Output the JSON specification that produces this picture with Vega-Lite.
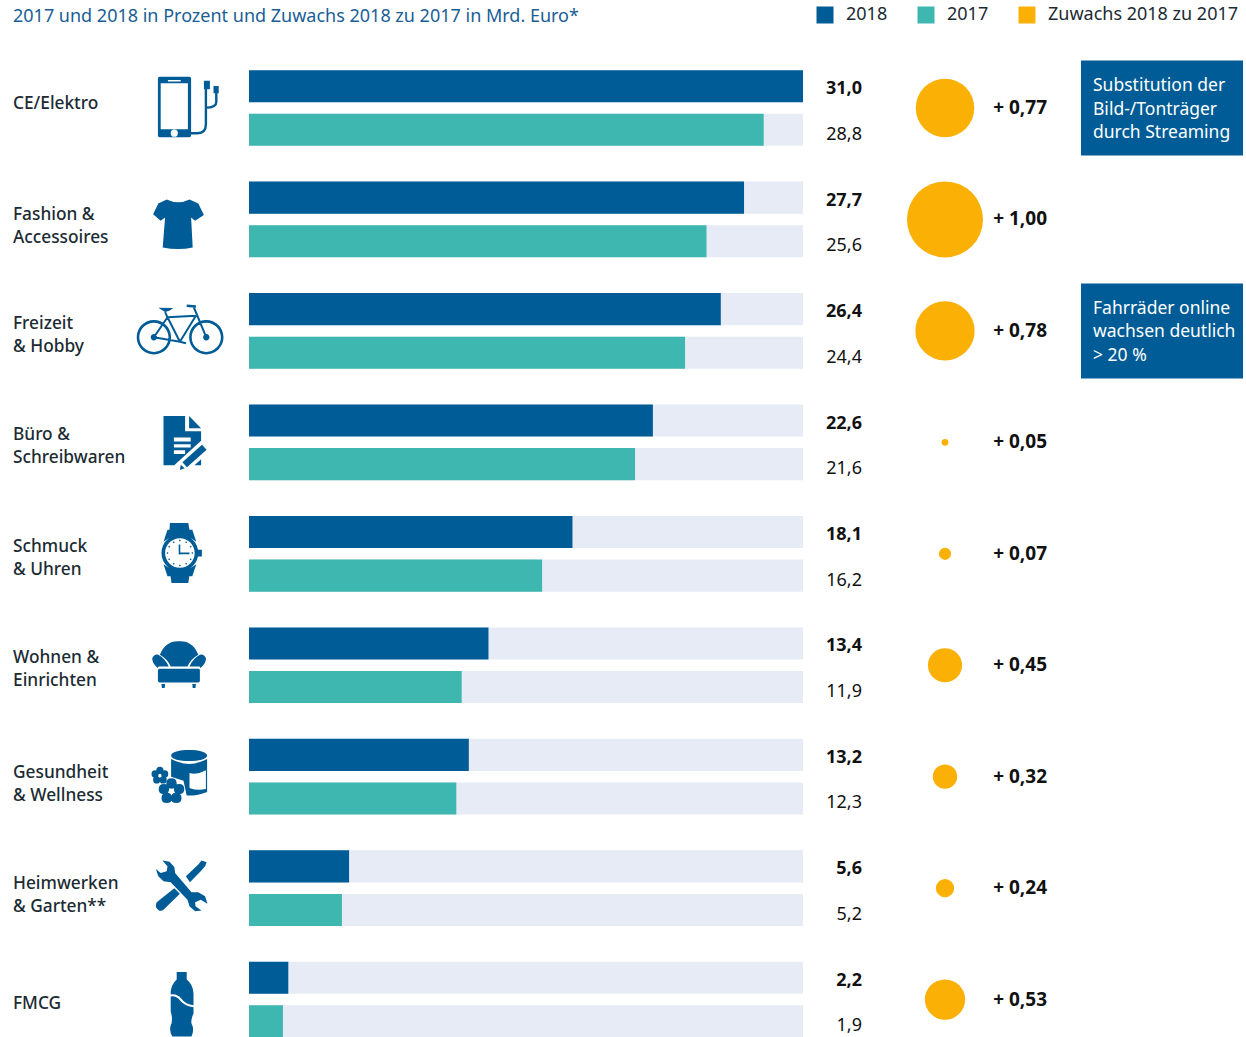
{
"$schema":"https://vega.github.io/schema/vega-lite/v6.json",
"padding":0,
"background":"white",
"autosize":{"type":"pad"},
"config":{"view":{"stroke":null},"font":"Noto Sans","text":{"font":"Noto Sans"}},
"datasets":{
"balken":[
{"kategorie":"CE/Elektro","jahr":"2018","wert":31.0,"label":"31,0"},
{"kategorie":"CE/Elektro","jahr":"2017","wert":28.8,"label":"28,8"},
{"kategorie":"Fashion & Accessoires","jahr":"2018","wert":27.7,"label":"27,7"},
{"kategorie":"Fashion & Accessoires","jahr":"2017","wert":25.6,"label":"25,6"},
{"kategorie":"Freizeit & Hobby","jahr":"2018","wert":26.4,"label":"26,4"},
{"kategorie":"Freizeit & Hobby","jahr":"2017","wert":24.4,"label":"24,4"},
{"kategorie":"Büro & Schreibwaren","jahr":"2018","wert":22.6,"label":"22,6"},
{"kategorie":"Büro & Schreibwaren","jahr":"2017","wert":21.6,"label":"21,6"},
{"kategorie":"Schmuck & Uhren","jahr":"2018","wert":18.1,"label":"18,1"},
{"kategorie":"Schmuck & Uhren","jahr":"2017","wert":16.4,"label":"16,2"},
{"kategorie":"Wohnen & Einrichten","jahr":"2018","wert":13.4,"label":"13,4"},
{"kategorie":"Wohnen & Einrichten","jahr":"2017","wert":11.9,"label":"11,9"},
{"kategorie":"Gesundheit & Wellness","jahr":"2018","wert":12.3,"label":"13,2"},
{"kategorie":"Gesundheit & Wellness","jahr":"2017","wert":11.6,"label":"12,3"},
{"kategorie":"Heimwerken & Garten","jahr":"2018","wert":5.6,"label":"5,6"},
{"kategorie":"Heimwerken & Garten","jahr":"2017","wert":5.2,"label":"5,2"},
{"kategorie":"FMCG","jahr":"2018","wert":2.2,"label":"2,2"},
{"kategorie":"FMCG","jahr":"2017","wert":1.9,"label":"1,9"}
],
"kategorien":[
{"kategorie":"CE/Elektro","name":"CE/Elektro","zuwachs":0.77,"kreis":0.77,"zuwachsText":"+ 0,77"},
{"kategorie":"Fashion & Accessoires","name":"Fashion &\nAccessoires","zuwachs":1.0,"kreis":1.0,"zuwachsText":"+ 1,00"},
{"kategorie":"Freizeit & Hobby","name":"Freizeit\n& Hobby","zuwachs":0.78,"kreis":0.78,"zuwachsText":"+ 0,78"},
{"kategorie":"Büro & Schreibwaren","name":"Büro &\nSchreibwaren","zuwachs":0.05,"kreis":0.09,"zuwachsText":"+ 0,05"},
{"kategorie":"Schmuck & Uhren","name":"Schmuck\n& Uhren","zuwachs":0.07,"kreis":0.16,"zuwachsText":"+ 0,07"},
{"kategorie":"Wohnen & Einrichten","name":"Wohnen &\nEinrichten","zuwachs":0.45,"kreis":0.45,"zuwachsText":"+ 0,45"},
{"kategorie":"Gesundheit & Wellness","name":"Gesundheit\n& Wellness","zuwachs":0.32,"kreis":0.32,"zuwachsText":"+ 0,32"},
{"kategorie":"Heimwerken & Garten","name":"Heimwerken\n& Garten**","zuwachs":0.24,"kreis":0.24,"zuwachsText":"+ 0,24"},
{"kategorie":"FMCG","name":"FMCG","zuwachs":0.53,"kreis":0.53,"zuwachsText":"+ 0,53"}
],
"hinweise":[
{"kategorie":"CE/Elektro","text":"Substitution der\nBild-/Tonträger\ndurch Streaming"},
{"kategorie":"Freizeit & Hobby","text":"Fahrräder online\nwachsen deutlich\n> 20 %"}
],
"kopf":[{"titel":"2017 und 2018 in Prozent und Zuwachs 2018 zu 2017 in Mrd. Euro*"}]
},
"hconcat":[
{"width":110,"height":1037,
 "layer":[
  {"data":{"name":"kopf"},"mark":{"type":"text","align":"left","baseline":"middle","dx":13,"fontSize":18,"fontWeight":400,"color":"#1A5E96"},"encoding":{"x":{"value":0},"y":{"value":17},"text":{"field":"titel"}}},
  {"data":{"name":"kategorien"},"transform":[{"filter":{"field":"kategorie","oneOf":["CE/Elektro","Fashion & Accessoires","Gesundheit & Wellness","Heimwerken & Garten"]}}],
   "mark":{"type":"text","align":"left","baseline":"middle","dx":13,"dy":-4,"fontSize":17.3,"fontWeight":500,"lineBreak":"\n","lineHeight":23,"color":"#1C2B33"},
   "encoding":{"x":{"value":0},"y":{"field":"kategorie","type":"nominal","axis":null,"sort":null,"scale":{"domain":["CE/Elektro","Fashion & Accessoires","Freizeit & Hobby","Büro & Schreibwaren","Schmuck & Uhren","Wohnen & Einrichten","Gesundheit & Wellness","Heimwerken & Garten","FMCG"],"range":[52.3,1055.3],"paddingInner":0,"paddingOuter":0}},"text":{"field":"name"}}},
  {"data":{"name":"kategorien"},"transform":[{"filter":{"field":"kategorie","oneOf":["Freizeit & Hobby","Büro & Schreibwaren","Schmuck & Uhren","Wohnen & Einrichten"]}}],
   "mark":{"type":"text","align":"left","baseline":"middle","dx":13,"dy":-7,"fontSize":17.3,"fontWeight":500,"lineBreak":"\n","lineHeight":23,"color":"#1C2B33"},
   "encoding":{"x":{"value":0},"y":{"field":"kategorie","type":"nominal","axis":null,"sort":null,"scale":{"domain":["CE/Elektro","Fashion & Accessoires","Freizeit & Hobby","Büro & Schreibwaren","Schmuck & Uhren","Wohnen & Einrichten","Gesundheit & Wellness","Heimwerken & Garten","FMCG"],"range":[52.3,1055.3],"paddingInner":0,"paddingOuter":0}},"text":{"field":"name"}}},
  {"data":{"name":"kategorien"},"transform":[{"filter":{"field":"kategorie","equal":"FMCG"}}],
   "mark":{"type":"text","align":"left","baseline":"middle","dx":13,"dy":4,"fontSize":17.3,"fontWeight":500,"lineBreak":"\n","lineHeight":23,"color":"#1C2B33"},
   "encoding":{"x":{"value":0},"y":{"field":"kategorie","type":"nominal","axis":null,"sort":null,"scale":{"domain":["CE/Elektro","Fashion & Accessoires","Freizeit & Hobby","Büro & Schreibwaren","Schmuck & Uhren","Wohnen & Einrichten","Gesundheit & Wellness","Heimwerken & Garten","FMCG"],"range":[52.3,1055.3],"paddingInner":0,"paddingOuter":0}},"text":{"field":"name"}}}
 ]},
{"width":139,"height":1037,"data":{"name":"kategorien"},
 "mark":{"type":"point","filled":true,"size":6400,"opacity":1,"color":"#005C96"},
 "encoding":{"y":{"field":"kategorie","type":"nominal","axis":null,"sort":null,"scale":{"domain":["CE/Elektro","Fashion & Accessoires","Freizeit & Hobby","Büro & Schreibwaren","Schmuck & Uhren","Wohnen & Einrichten","Gesundheit & Wellness","Heimwerken & Garten","FMCG"],"range":[52.3,1055.3],"paddingInner":0,"paddingOuter":0}},
 "shape":{"field":"kategorie","type":"nominal","legend":null,"scale":{"domain":["CE/Elektro","Fashion & Accessoires","Freizeit & Hobby","Büro & Schreibwaren","Schmuck & Uhren","Wohnen & Einrichten","Gesundheit & Wellness","Heimwerken & Garten","FMCG"],"range":[
"M-.5 -.78L.25 -.78Q.29 -.78 .29 -.74L.29 .69Q.29 .73 .25 .73L-.5 .73Q-.54 .73 -.54 .69L-.54 -.74Q-.54 -.78 -.5 -.78ZM-.47 -.62L-.47 .53L.21 .53L.21 -.62ZM-.29 -.7L-.29 -.66L.03 -.66L.03 -.7ZM-.22 .63Q-.22 .72 -.13 .72Q-.04 .72 -.04 .63Q-.04 .54 -.13 .54Q-.22 .54 -.22 .63ZM.29 .6L.45 .6Q.63 .6 .63 .4L.63 -.49L.69 -.49L.69 .4Q.69 .66 .45 .66L.29 .66ZM.61 -.68L.76 -.68L.76 -.47L.61 -.47ZM.85 -.55L.98 -.55L.98 -.37L.85 -.37ZM.89 -.37L.95 -.37L.95 -.15Q.95 .02 .66 .02L.66 -.04Q.89 -.04 .89 -.15Z",
"M-.32 -.5Q-.03 -.36 .25 -.5L.47 -.4L.61 -.11L.39 .03L.29 -.05L.33 .7Q-.03 .78 -.42 .7L-.36 -.05L-.47 .03L-.66 -.13L-.53 -.4Z",
"M-1.07 .16C-1.07 .3975 -.8775 .59 -.64 .59C-.4025 .59 -.21 .3975 -.21 .16C-.21 -.0775 -.4025 -.27 -.64 -.27C-.8775 -.27 -1.07 -.0775 -1.07 .16ZM-1.005 .16C-1.005 -.0416 -.8416 -.205 -.64 -.205C-.4384 -.205 -.275 -.0416 -.275 .16C-.275 .3616 -.4384 .525 -.64 .525C-.8416 .525 -1.005 .3616 -1.005 .16ZM.24 .16C.24 .3975 .4325 .59 .67 .59C.9075 .59 1.1 .3975 1.1 .16C1.1 -.0775 .9075 -.27 .67 -.27C.4325 -.27 .24 -.0775 .24 .16ZM.305 .16C.305 -.0416 .4684 -.205 .67 -.205C.8716 -.205 1.035 -.0416 1.035 .16C1.035 .3616 .8716 .525 .67 .525C.4684 .525 .305 .3616 .305 .16ZM-.72 .16C-.72 .204 -.684 .24 -.64 .24C-.596 .24 -.56 .204 -.56 .16C-.56 .116 -.596 .08 -.64 .08C-.684 .08 -.72 .116 -.72 .16ZM.59 .16C.59 .204 .626 .24 .67 .24C.714 .24 .75 .204 .75 .16C.75 .116 .714 .08 .67 .08C.626 .08 .59 .116 .59 .16ZM-.322 -.329L-.012 .281L.032 .259L-.278 -.351ZM-.299 -.315L.411 -.355L.409 -.405L-.301 -.365ZM.031 .283L.431 -.367L.389 -.393L-.011 .257ZM-.321 -.354L-.661 .146L-.619 .174L-.279 -.326ZM-.644 .185L.006 .295L.014 .245L-.636 .135ZM.327 -.6L.647 .17L.693 .15L.373 -.62ZM.178 -.6L.408 -.58L.412 -.64L.182 -.66ZM-.53 -.58L-.36 -.47L-.24 -.51L-.16 -.57ZM-.277 -.35L-.337 -.48L-.383 -.46L-.323 -.33ZM.004 .294L.154 .334L.166 .286L.016 .246Z",
"M-.4 -.66L.14 -.66L.14 -.28L.54 -.28L.54 .57L-.4 .57ZM.24 -.66L.54 -.35L.24 -.35ZM-.14 -.12L-.14 -.02L.28 -.02L.28 -.12ZM-.14 .05L-.14 .13L.28 .13L.28 .05ZM-.14 .2L-.14 .29L.14 .29L.14 .2ZM.54 -.04L-.132 .57L.374 .57L.54 .42ZM.563 .057L.677 .183L.187 .623L.073 .497ZM.03 .56L.13 .65L.01 .69Z",
"M-.45 -.02C-.45 -.274 -.244 -.48 .01 -.48C.264 -.48 .47 -.274 .47 -.02C.47 .234 .264 .44 .01 .44C-.244 .44 -.45 .234 -.45 -.02ZM-.36 -.02C-.36 .184 -.194 .35 .01 .35C.214 .35 .38 .184 .38 -.02C.38 -.224 .214 -.39 .01 -.39C-.194 -.39 -.36 -.224 -.36 -.02ZM-.24 -.77L.22 -.77L.28 -.42L-.26 -.42ZM-.25 .38L.27 .38L.22 .73L-.2 .73ZM-.3 -.6L.32 -.6L.42 -.3L.3 -.38L.01 -.42L-.28 -.38L-.4 -.3ZM-.3 .56L-.4 .26L-.28 .34L.01 .38L.3 .34L.42 .26L.32 .56ZM.45 -.1L.56 -.1L.56 .07L.45 .07ZM-.02 -.23L.02 -.23L.02 .02L-.02 .02ZM-.02 -.03L.25 -.03L.25 .01L-.02 .01ZM.01 -.355L.035 -.33L.01 -.305L-.015 -.33ZM.01 .265L.035 .29L.01 .315L-.015 .29ZM-.3 -.045L-.275 -.02L-.3 .005L-.325 -.02ZM.32 -.045L.345 -.02L.32 .005L.295 -.02ZM.165 -.315L.19 -.29L.165 -.265L.14 -.29ZM.28 -.2L.305 -.175L.28 -.15L.255 -.175ZM.28 .11L.305 .135L.28 .16L.255 .135ZM.165 .225L.19 .25L.165 .275L.14 .25ZM-.145 .225L-.12 .25L-.145 .275L-.17 .25ZM-.26 .11L-.235 .135L-.26 .16L-.285 .135ZM-.26 -.2L-.235 -.175L-.26 -.15L-.285 -.175ZM-.145 -.315L-.12 -.29L-.145 -.265L-.17 -.29Z",
"M-.49 -.26Q-.35 -.62 -.01 -.6Q.33 -.62 .47 -.26Q.28 -.15 .2 .03L-.22 .03Q-.3 -.15 -.49 -.26ZM-.68 -.18Q-.62 -.3 -.53 -.26Q-.36 -.17 -.27 .03L-.52 .03L-.55 .07Q-.7 -.08 -.68 -.18ZM.66 -.18Q.6 -.3 .51 -.26Q.34 -.17 .25 .03L.5 .03L.53 .07Q.68 -.08 .66 -.18ZM-.5 .09L.48 .09Q.51 .09 .51 .13L.51 .39Q.51 .43 .47 .43L-.49 .43Q-.54 .43 -.54 .39L-.54 .13Q-.54 .09 -.5 .09ZM-.45 .47L-.36 .47L-.37 .57L-.44 .57ZM.32 .47L.41 .47L.4 .57L.33 .57Z",
"M-.21 -.53C-.21 -.62 0 -.67 .24 -.67C.48 -.67 .69 -.62 .69 -.53C.69 -.44 .48 -.39 .24 -.39C0 -.39 -.21 -.44 -.21 -.53ZM-.21 -.44Q.24 -.2 .69 -.44L.69 .38Q.45 .48 .18 .47L.1 .1L-.21 0ZM.25 -.09L.25 .28Q.45 .36 .66 .31L.66 -.16Q.45 -.04 .25 -.09ZM-.33 .17Q-.33 .04 -.2 .04Q-.07 .04 -.07 .17Q-.07 .3 -.2 .3Q-.33 .3 -.33 .17ZM-.14 .31Q-.14 .18 -.01 .18Q.12 .18 .12 .31Q.12 .44 -.01 .44Q-.14 .44 -.14 .31ZM-.21 .53Q-.21 .4 -.08 .4Q.05 .4 .05 .53Q.05 .66 -.08 .66Q-.21 .66 -.21 .53ZM-.45 .53Q-.45 .4 -.32 .4Q-.19 .4 -.19 .53Q-.19 .66 -.32 .66Q-.45 .66 -.45 .53ZM-.52 .31Q-.52 .18 -.39 .18Q-.26 .18 -.26 .31Q-.26 .44 -.39 .44Q-.52 .44 -.52 .31ZM-.58 -.16Q-.58 -.25 -.49 -.25Q-.4 -.25 -.4 -.16Q-.4 -.07 -.49 -.07Q-.58 -.07 -.58 -.16ZM-.46 -.07Q-.46 -.16 -.37 -.16Q-.28 -.16 -.28 -.07Q-.28 .02 -.37 .02Q-.46 .02 -.46 -.07ZM-.5 .08Q-.5 -.01 -.41 -.01Q-.32 -.01 -.32 .08Q-.32 .17 -.41 .17Q-.5 .17 -.5 .08ZM-.66 .08Q-.66 -.01 -.57 -.01Q-.48 -.01 -.48 .08Q-.48 .17 -.57 .17Q-.66 .17 -.66 .08ZM-.7 -.07Q-.7 -.16 -.61 -.16Q-.52 -.16 -.52 -.07Q-.52 .02 -.61 .02Q-.7 .02 -.7 -.07Z",
"M-.43 -.69L-.25 -.66L-.13 -.53L-.11 -.38L.3 .1L.47 .1L.64 .2L.7 .39L.53 .29L.39 .35L.4 .45L.55 .56L.39 .58L.25 .45L.2 .29L-.22 -.15L-.4 -.17L-.53 -.3L-.59 -.48L-.47 -.38L-.32 -.42L-.3 -.55ZM.16 -.3L.47 -.59L.55 -.69L.68 -.65L.64 -.55L.53 -.42L.26 -.15ZM-.13 0L.01 .14L-.4 .54Q-.5 .62 -.59 .47Q-.6 .4 -.57 .35Z",
"M-.07 -.69L.18 -.69L.18 -.5Q.34 -.38 .35 -.15L.35 .14Q.15 .13 .05 -.02Q-.05 -.15 -.22 -.13L-.22 -.2Q-.2 -.38 -.07 -.5ZM-.22 -.08Q-.07 -.1 .02 .03Q.15 .18 .35 .19L.35 .35Q.28 .5 .3 .6Q.38 .75 .3 .92L-.18 .92Q-.28 .75 -.2 .6Q-.17 .45 -.22 .3Z"
]}}}},
{"width":554,"height":1037,"data":{"name":"balken"},
 "encoding":{
  "y":{"field":"kategorie","type":"nominal","axis":null,"sort":null,"scale":{"domain":["CE/Elektro","Fashion & Accessoires","Freizeit & Hobby","Büro & Schreibwaren","Schmuck & Uhren","Wohnen & Einrichten","Gesundheit & Wellness","Heimwerken & Garten","FMCG"],"range":[52.3,1055.3],"paddingInner":0,"paddingOuter":0}},
  "yOffset":{"field":"jahr","type":"nominal","sort":null,"scale":{"domain":["2018","2017"],"paddingInner":0.264,"paddingOuter":0.41}}
 },
 "layer":[
  {"mark":{"type":"bar","color":"#E6EBF5"},"encoding":{"x":{"datum":31,"type":"quantitative","axis":null,"scale":{"domain":[0,31],"nice":false}}}},
  {"mark":{"type":"bar"},"encoding":{
    "x":{"field":"wert","type":"quantitative","axis":null,"scale":{"domain":[0,31],"nice":false}},
    "color":{"field":"jahr","type":"nominal","scale":{"domain":["2018","2017","Zuwachs 2018 zu 2017"],"range":["#005C96","#3DB7B0","#FAB005"]},
      "legend":{"title":null,"orient":"none","legendX":816,"legendY":6,"direction":"horizontal","columns":3,"symbolType":"square","symbolSize":289,"symbolStrokeWidth":0,"symbolOpacity":1,"labelFontSize":18,"labelFont":"Noto Sans","labelColor":"#1C2B33","labelOffset":12,"labelLimit":300,"columnPadding":29,"padding":0}}}}
 ]},
{"width":59,"height":1037,"data":{"name":"balken"},
 "encoding":{
  "x":{"value":"width"},
  "y":{"field":"kategorie","type":"nominal","axis":null,"sort":null,"scale":{"domain":["CE/Elektro","Fashion & Accessoires","Freizeit & Hobby","Büro & Schreibwaren","Schmuck & Uhren","Wohnen & Einrichten","Gesundheit & Wellness","Heimwerken & Garten","FMCG"],"range":[52.3,1055.3],"paddingInner":0,"paddingOuter":0}},
  "yOffset":{"field":"jahr","type":"nominal","sort":null,"scale":{"domain":["2018","2017"],"paddingInner":0.264,"paddingOuter":0.41}},
  "text":{"field":"label"}
 },
 "layer":[
  {"transform":[{"filter":"datum.jahr==='2018'"}],"mark":{"type":"text","align":"right","baseline":"middle","dy":3,"fontSize":18,"fontWeight":700,"color":"#111111"}},
  {"transform":[{"filter":"datum.jahr==='2017'"}],"mark":{"type":"text","align":"right","baseline":"middle","dy":5,"fontSize":18,"fontWeight":400,"color":"#111111"}}
 ]},
{"width":166,"height":1037,"data":{"name":"kategorien"},
 "mark":{"type":"circle","color":"#FAB005","opacity":1},
 "encoding":{
  "y":{"field":"kategorie","type":"nominal","axis":null,"sort":null,"scale":{"domain":["CE/Elektro","Fashion & Accessoires","Freizeit & Hobby","Büro & Schreibwaren","Schmuck & Uhren","Wohnen & Einrichten","Gesundheit & Wellness","Heimwerken & Garten","FMCG"],"range":[52.3,1055.3],"paddingInner":0,"paddingOuter":0}},
  "size":{"field":"kreis","type":"quantitative","legend":null,"scale":{"type":"pow","exponent":2,"domain":[0,1],"range":[0,5776]}}
 }},
{"width":53,"height":1037,"data":{"name":"kategorien"},
 "mark":{"type":"text","align":"right","baseline":"middle","dx":-34,"fontSize":19,"fontWeight":700,"color":"#111111"},
 "encoding":{
  "x":{"value":"width"},
  "y":{"field":"kategorie","type":"nominal","axis":null,"sort":null,"scale":{"domain":["CE/Elektro","Fashion & Accessoires","Freizeit & Hobby","Büro & Schreibwaren","Schmuck & Uhren","Wohnen & Einrichten","Gesundheit & Wellness","Heimwerken & Garten","FMCG"],"range":[52.3,1055.3],"paddingInner":0,"paddingOuter":0}},
  "text":{"field":"zuwachsText"}
 }},
{"width":162,"height":1037,"data":{"name":"hinweise"},
 "encoding":{"y":{"field":"kategorie","type":"nominal","axis":null,"sort":null,"scale":{"domain":["CE/Elektro","Fashion & Accessoires","Freizeit & Hobby","Büro & Schreibwaren","Schmuck & Uhren","Wohnen & Einrichten","Gesundheit & Wellness","Heimwerken & Garten","FMCG"],"range":[52.3,1055.3],"paddingInner":0,"paddingOuter":0}}},
 "layer":[
  {"mark":{"type":"bar","height":95,"color":"#005C96"},"encoding":{"x":{"datum":1,"type":"quantitative","axis":null,"scale":{"domain":[0,1],"nice":false}}}},
  {"mark":{"type":"text","align":"left","baseline":"middle","dx":12,"dy":-22,"fontSize":17.5,"lineBreak":"\n","lineHeight":23.5,"color":"#FFFFFF"},"encoding":{"x":{"datum":0,"type":"quantitative","axis":null,"scale":{"domain":[0,1],"nice":false}},"text":{"field":"text"}}}
 ]}
],
"spacing":0,
"bounds":"flush"
}
